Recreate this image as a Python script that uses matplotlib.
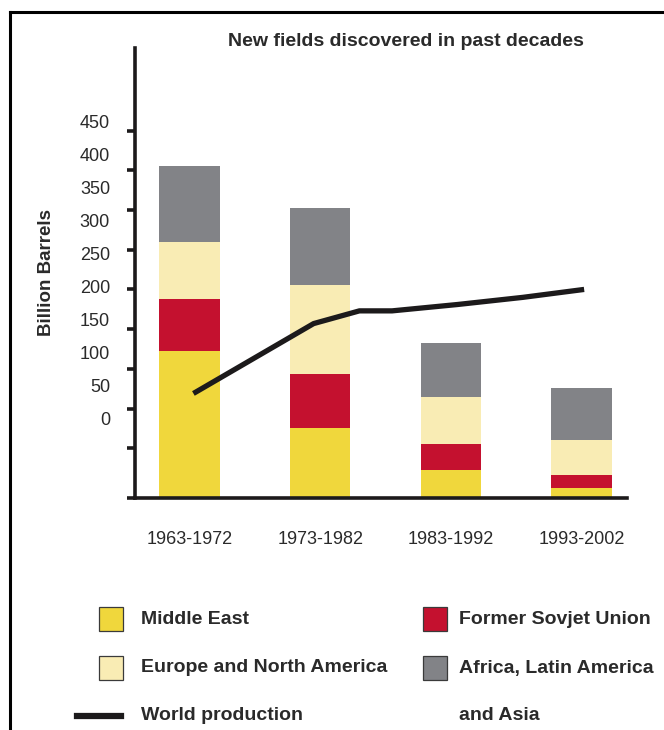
import matplotlib
matplotlib.use("Agg")
import matplotlib.pyplot as plt
from matplotlib.lines import Line2D
from matplotlib.patches import Rectangle

plt.rcParams['font.family'] = ['Liberation Sans', 'DejaVu Sans']

# data (billion barrels)
decades = ['1963-1972', '1973-1982', '1983-1992', '1993-2002']
middle_east = [184, 88, 35, 12]
former_soviet = [66, 68, 32, 16]
europe_na = [72, 111, 59, 45]
africa_latam_asia = [95, 97, 68, 65]

prod_years = [1967.8, 1977, 1980.5, 1983, 1988, 1993, 1997.7]
prod_values = [131, 219, 235, 235, 243, 252, 262]

# tick marks on the axis and the (offset) label column
tick_marks = [0, 62, 112, 162, 212, 262, 312, 362, 412, 462]
label_values = [0, 50, 100, 150, 200, 250, 300, 350, 400, 450]

c_yellow = '#f0d73c'
c_red = '#c4112f'
c_cream = '#f9ecb4'
c_grey = '#828387'
c_text = '#2a2a2a'

fig = plt.figure(figsize=(6.64, 7.30), dpi=100)
ax = fig.add_axes([135 / 664, 1 - 497.5 / 730, (627 - 135) / 664, (497.5 - 48) / 730])

x = list(range(len(decades)))
w = 0.46
b1 = middle_east
b2 = [a + b for a, b in zip(b1, former_soviet)]
b3 = [a + b for a, b in zip(b2, europe_na)]
ax.bar(x, middle_east, w, color=c_yellow, zorder=1)
ax.bar(x, former_soviet, w, bottom=b1, color=c_red, zorder=1)
ax.bar(x, europe_na, w, bottom=b2, color=c_cream, zorder=1)
ax.bar(x, africa_latam_asia, w, bottom=b3, color=c_grey, zorder=1)

# production line, years mapped onto the decade positions
px = [(y - 1967.5) / 10 for y in prod_years]
ax.plot(px, prod_values, color='#1c1a1b', lw=3.8, solid_joinstyle='round',
        solid_capstyle='butt', zorder=3)

ax.set_xlim(-0.417, 3.348)
ax.set_ylim(0, 566)
for s in ['top', 'right']:
    ax.spines[s].set_visible(False)
for s in ['left', 'bottom']:
    ax.spines[s].set_linewidth(2.6)
    ax.spines[s].set_color('#1c1a1b')
    ax.spines[s].set_zorder(4)
ax.set_yticks(tick_marks)
ax.set_yticklabels([])
ax.tick_params(axis='y', direction='out', length=6, width=2.6, color='#1c1a1b')
ax.set_xticks(x)
ax.set_xticklabels(decades, fontsize=13, color=c_text)
ax.tick_params(axis='x', length=0, pad=24)

# label column, on its own scale
ax2 = ax.twinx()
ax2.set_ylim(-120, 562)
for s in ax2.spines.values():
    s.set_visible(False)
ax2.yaxis.set_ticks_position('left')
ax2.yaxis.set_label_position('left')
ax2.set_yticks(label_values)
ax2.set_yticklabels([str(v) for v in label_values], fontsize=13, color=c_text)
ax2.tick_params(axis='y', length=0, pad=18)
ax2.set_ylabel('Billion Barrels', fontsize=13.5, fontweight='bold', color=c_text, labelpad=18)

fig.text(406 / 664, 1 - 42 / 730, 'New fields discovered in past decades', ha='center', va='center',
         fontsize=14, fontweight='bold', color=c_text)

# frame
fig.add_artist(Line2D([10 / 664, 1], [1 - 12 / 730, 1 - 12 / 730], color='black', lw=2.2))
fig.add_artist(Line2D([10 / 664, 10 / 664], [0, 1 - 12 / 730], color='black', lw=2.2))

# legend
entries = [(99, 619, c_yellow, 'Middle East', 42), (423, 619, c_red, 'Former Sovjet Union', 36),
           (99, 668, c_cream, 'Europe and North America', 42), (423, 668, c_grey, 'Africa, Latin America', 36)]
for lx, ly, col, txt, gap in entries:
    fig.add_artist(Rectangle((lx / 664, 1 - (ly + 12) / 730), 24 / 664, 24 / 730,
                             facecolor=col, edgecolor='#3a3a3a', lw=0.9))
    fig.text((lx + gap) / 664, 1 - ly / 730, txt, ha='left', va='center', fontsize=14,
             fontweight='bold', color=c_text)
fig.add_artist(Line2D([77 / 664, 121 / 664], [1 - 716 / 730, 1 - 716 / 730], color='#1c1a1b', lw=4.5))
fig.text(141 / 664, 1 - 716 / 730, 'World production', ha='left', va='center', fontsize=14,
         fontweight='bold', color=c_text)
fig.text(459 / 664, 1 - 716 / 730, 'and Asia', ha='left', va='center', fontsize=14,
         fontweight='bold', color=c_text)

fig.savefig('out.png', dpi=100)
